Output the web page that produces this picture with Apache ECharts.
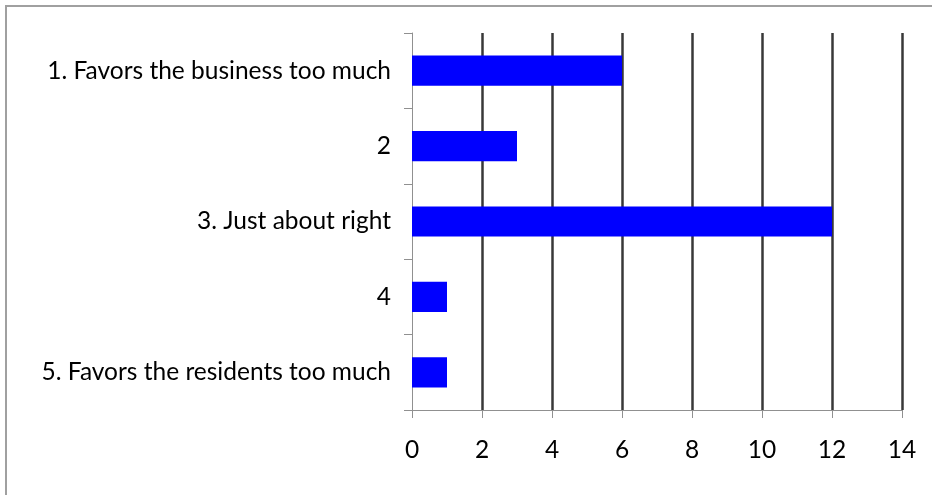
<!DOCTYPE html>
<html>
<head>
<meta charset="utf-8">
<script src="https://cdn.jsdelivr.net/npm/echarts@6/dist/echarts.min.js"></script>
<style>
html,body{margin:0;padding:0;background:#fff;}
#chart{width:932px;height:495px;}
</style>
</head>
<body>
<div id="chart"></div>
<script>
var categories = ['1. Favors the business too much', '2', '3. Just about right', '4', '5. Favors the residents too much'];
var values = [6, 3, 12, 1, 1];
var xTicks = [0, 2, 4, 6, 8, 10, 12, 14];

var chart = echarts.init(document.getElementById('chart'), null, {renderer: 'canvas'});
var font = 'Lato';
chart.setOption({
  animation: false,
  backgroundColor: '#ffffff',
  graphic: [{
    type: 'rect',
    shape: {x: 6, y: 6, width: 1000, height: 1000},
    style: {fill: 'none', stroke: '#a0a0a0', lineWidth: 2},
    silent: true
  }],
  grid: {left: 412, right: 30, top: 33, bottom: 85, containLabel: false},
  xAxis: {
    type: 'value',
    min: xTicks[0],
    max: xTicks[xTicks.length - 1],
    interval: 2,
    axisLine: {show: true, lineStyle: {color: '#909090', width: 1}},
    axisTick: {show: true, length: 8, lineStyle: {color: '#909090'}},
    axisLabel: {margin: 28, color: '#000', fontFamily: font, fontSize: 24.5},
    splitLine: {show: true, showMinLine: false, lineStyle: {color: '#383838', width: 2.5}}
  },
  yAxis: {
    type: 'category',
    data: categories,
    inverse: true,
    boundaryGap: true,
    axisLine: {show: true, lineStyle: {color: '#909090', width: 1}},
    axisTick: {show: true, length: 8, lineStyle: {color: '#909090'}},
    axisLabel: {margin: 21, color: '#000', fontFamily: font, fontSize: 24.5},
    splitLine: {show: false}
  },
  series: [{
    type: 'bar',
    data: values,
    barWidth: '40%',
    itemStyle: {color: '#0000ff'},
    z: 3
  }]
});
</script>
</body>
</html>
